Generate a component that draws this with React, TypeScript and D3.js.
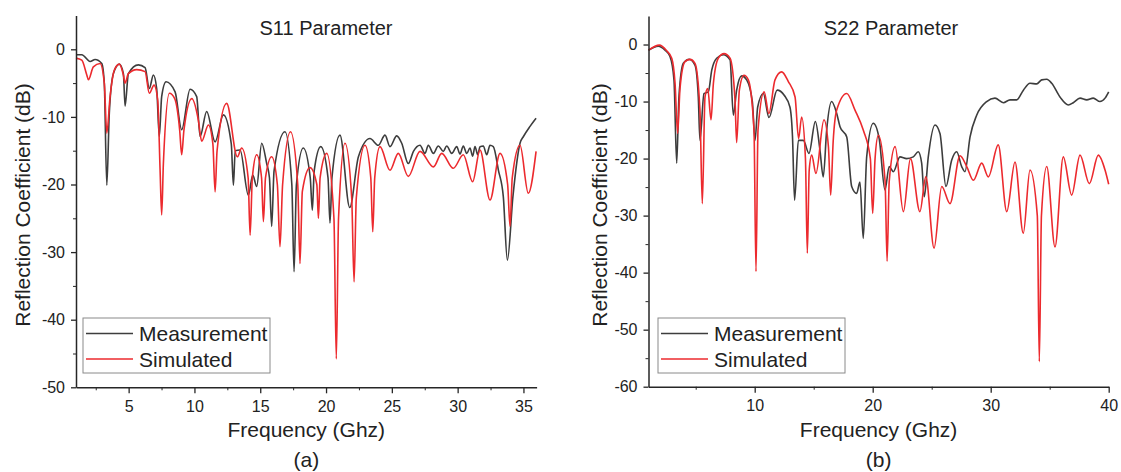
import React, { useRef, useEffect } from "react";
import * as d3 from "d3";

// S11 panel (a) - [frequency GHz, dB]
const s11Meas: [number, number][] = [
  [1.0, -0.8], [1.44, -0.8], [2.07, -1.8], [2.45, -1.5], [2.96, -2.1], [3.15, -5.0], [3.34, -20.1],
  [3.53, -9.5], [3.84, -3.6], [4.29, -2.2], [4.6, -3.6], [4.73, -8.4], [4.98, -3.6], [5.74, -2.3],
  [6.25, -2.7], [6.57, -5.8], [6.88, -3.8], [7.13, -5.8], [7.33, -12.9], [7.51, -7.0], [7.84, -4.8],
  [8.53, -6.3], [9.03, -11.9], [9.67, -5.9], [10.17, -7.0], [10.43, -12.9], [10.93, -9.2], [11.57, -13.7],
  [12.2, -9.7], [12.8, -14.0], [12.96, -20.1], [13.1, -15.0], [13.47, -14.9], [14.1, -21.6], [14.43, -18.6],
  [14.73, -20.3], [15.11, -13.9], [15.49, -16.9], [15.7, -19.0], [15.87, -26.2], [16.05, -18.0], [16.88, -12.2],
  [17.4, -20.0], [17.57, -32.9], [17.75, -20.0], [18.27, -14.6], [18.8, -19.0], [18.96, -23.8], [19.1, -18.0],
  [19.6, -14.4], [20.15, -19.0], [20.3, -25.7], [20.45, -19.0], [21.06, -12.7], [21.8, -23.4], [22.46, -15.9],
  [23.34, -13.2], [23.97, -14.2], [24.48, -12.7], [24.86, -14.4], [25.37, -12.8], [25.75, -13.9], [26.25, -16.9],
  [26.64, -15.1], [27.14, -14.2], [27.52, -15.4], [27.77, -14.2], [28.16, -15.4], [28.53, -14.3], [28.91, -15.1],
  [29.17, -14.3], [29.55, -15.4], [29.93, -14.4], [30.18, -15.5], [30.43, -14.3], [30.69, -15.4], [30.94, -14.6],
  [31.14, -15.8], [31.32, -14.4], [31.53, -15.6], [31.7, -14.4], [31.95, -14.3], [32.21, -15.6], [32.46, -14.2],
  [32.71, -14.4], [33.1, -17.9], [33.47, -21.8], [33.78, -31.2], [34.2, -21.8], [34.74, -13.9], [35.0, -12.9],
  [35.5, -11.4], [35.96, -10.2],
];

const s11Sim: [number, number][] = [
  [1.0, -1.3], [1.44, -1.6], [1.82, -3.8], [1.94, -4.5], [2.32, -2.6], [2.83, -2.1], [3.15, -5.0], [3.34, -12.4],
  [3.59, -7.0], [3.91, -3.1], [4.29, -2.2], [4.6, -3.8], [4.73, -5.0], [4.98, -3.6], [5.61, -3.0], [6.25, -3.3],
  [6.57, -6.5], [6.93, -5.3], [7.21, -7.5], [7.39, -17.9], [7.51, -24.5], [7.64, -16.9], [8.1, -6.5], [8.5, -7.3],
  [8.88, -12.0], [9.03, -15.6], [9.2, -12.0], [9.8, -7.3], [10.3, -10.5], [10.55, -13.6], [11.06, -11.2],
  [11.4, -14.0], [11.57, -21.1], [11.72, -15.0], [12.45, -8.0], [13.26, -15.9], [13.59, -14.6], [14.08, -19.0],
  [14.23, -27.5], [14.4, -19.0], [14.73, -15.6], [15.1, -19.0], [15.24, -25.5], [15.4, -19.0], [15.87, -15.9],
  [16.3, -20.0], [16.5, -29.2], [16.7, -20.0], [17.3, -12.2], [17.85, -20.0], [18.02, -31.7], [18.2, -21.0],
  [18.78, -17.5], [19.3, -20.0], [19.42, -25.0], [19.55, -19.0], [20.05, -15.4], [20.6, -25.0], [20.78, -45.8],
  [20.95, -25.0], [21.44, -13.9], [21.95, -22.0], [22.13, -34.4], [22.3, -22.0], [22.96, -14.2], [23.4, -19.0],
  [23.55, -27.0], [23.7, -19.0], [24.1, -14.4], [24.86, -17.9], [25.49, -15.4], [26.25, -18.8], [27.14, -15.1],
  [28.16, -17.4], [28.79, -15.4], [29.67, -17.6], [30.43, -15.6], [31.14, -19.6], [31.7, -14.9], [32.46, -22.3],
  [33.22, -15.4], [33.8, -20.0], [33.98, -26.2], [34.15, -19.0], [34.74, -14.2], [35.37, -21.3], [35.96, -15.1],
];

// S22 panel (b)
const s22Meas: [number, number][] = [
  [1.0, -1.0], [1.83, -0.3], [2.4, -1.0], [2.82, -2.1], [3.16, -6.2], [3.39, -20.8], [3.58, -9.2], [3.95, -3.3],
  [4.46, -2.6], [4.94, -3.6], [5.22, -9.2], [5.36, -16.8], [5.7, -8.6], [6.07, -8.3], [6.36, -4.5], [6.78, -2.4],
  [7.34, -1.8], [7.91, -2.7], [8.19, -12.4], [8.47, -8.0], [8.9, -5.5], [9.32, -6.2], [9.8, -10.0], [10.03, -16.8],
  [10.25, -11.0], [10.73, -8.6], [11.21, -12.8], [11.9, -8.0], [12.5, -8.9], [12.99, -11.0], [13.2, -16.0],
  [13.38, -27.3], [13.7, -16.8], [14.12, -16.8], [14.6, -19.1], [15.14, -13.5], [15.53, -18.5], [15.81, -23.2],
  [16.1, -15.0], [16.52, -10.0], [16.95, -12.1], [17.23, -14.4], [17.8, -16.2], [18.22, -24.9], [18.64, -26.1],
  [18.92, -24.1], [19.2, -34.0], [19.49, -19.7], [20.05, -13.8], [20.55, -16.5], [21.04, -25.5], [21.4, -21.4],
  [21.75, -22.3], [22.31, -19.7], [22.88, -20.0], [23.44, -19.7], [23.86, -18.8], [24.15, -20.8], [24.37, -26.7],
  [24.71, -19.7], [25.28, -14.1], [25.7, -15.6], [26.21, -24.9], [26.69, -20.3], [27.12, -18.8], [27.54, -21.4],
  [27.82, -22.3], [28.25, -16.2], [28.81, -12.4], [29.66, -10.0], [30.36, -9.4], [31.07, -10.2], [31.64, -9.7],
  [32.2, -9.7], [32.77, -8.0], [33.33, -6.8], [33.9, -6.9], [34.32, -6.2], [34.75, -6.1], [35.17, -6.8],
  [35.87, -9.2], [36.58, -10.6], [37.0, -10.2], [37.57, -9.4], [38.14, -9.7], [38.69, -9.4], [39.26, -10.0],
  [39.69, -9.4], [40.0, -8.3],
];

const s22Sim: [number, number][] = [
  [1.0, -1.0], [1.92, -0.1], [2.54, -1.1], [2.97, -2.4], [3.25, -6.8], [3.47, -15.6], [3.67, -7.7], [4.09, -3.0],
  [4.52, -2.6], [4.94, -3.3], [5.36, -11.5], [5.56, -27.9], [5.79, -9.2], [6.02, -7.7], [6.3, -13.2], [6.5, -6.8],
  [6.92, -2.4], [7.4, -1.6], [7.91, -2.4], [8.33, -9.7], [8.47, -17.2], [8.7, -8.0], [9.09, -5.4], [9.46, -6.2],
  [9.94, -15.0], [10.11, -39.8], [10.28, -15.0], [10.8, -8.3], [11.2, -12.1], [11.72, -6.2], [12.29, -4.8],
  [12.85, -6.5], [13.42, -9.2], [13.72, -16.5], [13.98, -12.7], [14.3, -20.0], [14.46, -36.6], [14.62, -22.0],
  [14.83, -19.4], [15.19, -22.6], [15.87, -13.2], [16.25, -18.0], [16.44, -26.4], [16.65, -17.0], [16.95, -11.5],
  [17.8, -8.6], [18.5, -11.5], [19.2, -15.0], [19.8, -20.0], [20.0, -29.6], [20.2, -20.0], [20.48, -15.9],
  [21.05, -24.0], [21.22, -38.0], [21.4, -24.0], [21.9, -17.9], [22.6, -29.3], [23.2, -20.0], [24.0, -29.3],
  [24.5, -23.2], [25.2, -35.7], [25.85, -24.9], [26.55, -27.9], [27.4, -19.5], [27.97, -21.4], [28.53, -23.8],
  [29.24, -20.8], [29.8, -23.2], [30.64, -17.6], [31.36, -29.3], [32.06, -20.6], [32.76, -33.1], [33.33, -22.0],
  [33.95, -30.0], [34.12, -55.6], [34.3, -30.0], [34.75, -21.4], [35.45, -35.5], [36.15, -19.7], [36.86, -26.4],
  [37.57, -19.4], [38.36, -24.4], [39.12, -19.4], [39.69, -22.0], [40.0, -24.5],
];

const xTicksA = [5, 10, 15, 20, 25, 30, 35];
const xMinorA = [2.5, 7.5, 12.5, 17.5, 22.5, 27.5, 32.5];
const yTicksA = [0, -10, -20, -30, -40, -50];
const yMinorA = [-5, -15, -25, -35, -45];

const xTicksB = [10, 20, 30, 40];
const xMinorB = [5, 15, 25, 35];
const yTicksB = [0, -10, -20, -30, -40, -50, -60];
const yMinorB = [-5, -15, -25, -35, -45, -55];

const legendNames = ["Measurement", "Simulated"];

const FONT = "'Liberation Sans', Arial, sans-serif";
const MEAS = "#3d3d3d";
const SIM = "#ec2a2e";
const AXIS = "#262626";

const fmt = (d) => (d < 0 ? "-" + Math.abs(d) : String(d));

function drawPanel(svg, p) {
  const x = d3.scaleLinear().domain(p.xDomain).range(p.xRange);
  const y = d3.scaleLinear().domain(p.yDomain).range(p.yRange);
  const g = svg.append("g");

  const line = d3
    .line<[number, number]>()
    .x((d) => x(d[0]))
    .y((d) => y(d[1]))
    .curve(d3.curveMonotoneX);

  g.append("path").datum(p.meas).attr("d", line).attr("fill", "none")
    .attr("stroke", MEAS).attr("stroke-width", 1.6).attr("stroke-linejoin", "round");
  g.append("path").datum(p.sim).attr("d", line).attr("fill", "none")
    .attr("stroke", SIM).attr("stroke-width", 1.6).attr("stroke-linejoin", "round");

  const y0 = p.yRange[0];
  const x0 = p.xRange[0];

  // minor ticks first
  g.append("g").attr("transform", `translate(0,${y0})`)
    .call(d3.axisBottom(x).tickValues(p.xMinor).tickSize(3).tickFormat(() => "").tickSizeOuter(0))
    .call((a) => a.select(".domain").remove());
  g.append("g").attr("transform", `translate(${x0},0)`)
    .call(d3.axisLeft(y).tickValues(p.yMinor).tickSize(3).tickFormat(() => "").tickSizeOuter(0))
    .call((a) => a.select(".domain").remove());

  const xa = g.append("g").attr("transform", `translate(0,${y0})`)
    .call(d3.axisBottom(x).tickValues(p.xTicks).tickSize(6).tickPadding(7).tickSizeOuter(0).tickFormat(fmt));
  const ya = g.append("g").attr("transform", `translate(${x0},0)`)
    .call(d3.axisLeft(y).tickValues(p.yTicks).tickSize(5).tickPadding(6).tickSizeOuter(0).tickFormat(fmt));

  [xa, ya].forEach((a) => {
    a.select(".domain").attr("stroke", AXIS).attr("stroke-width", 1.5);
    a.selectAll("line").attr("stroke", AXIS).attr("stroke-width", 1.3);
    a.selectAll("text").attr("fill", "#222").style("font-family", FONT).style("font-size", "16px");
  });
  g.selectAll("line").attr("stroke", AXIS);

  // titles
  g.append("text").attr("x", p.titleX).attr("y", 35).attr("text-anchor", "middle")
    .style("font-family", FONT).style("font-size", "20px").attr("fill", "#222").text(p.title);

  const cx = (p.xRange[0] + p.xRange[1]) / 2;
  g.append("text").attr("x", cx).attr("y", 437).attr("text-anchor", "middle")
    .style("font-family", FONT).style("font-size", "21px").attr("fill", "#222").text("Frequency (Ghz)");
  g.append("text").attr("x", cx).attr("y", 467).attr("text-anchor", "middle")
    .style("font-family", FONT).style("font-size", "21px").attr("fill", "#222").text(p.sub);
  g.append("text").attr("transform", `translate(${p.yLabelX},205) rotate(-90)`).attr("text-anchor", "middle")
    .style("font-family", FONT).style("font-size", "21px").attr("fill", "#222").text("Reflection Coefficient (dB)");

  // legend
  const lg = g.append("g").attr("transform", `translate(${p.legendX},318)`);
  lg.append("rect").attr("width", 187).attr("height", 55).attr("fill", "white")
    .attr("stroke", "#8a8a8a").attr("stroke-width", 1);
  legendNames.forEach((name, i) => {
    const ly = 15.5 + i * 25.5;
    lg.append("line").attr("x1", 3).attr("x2", 50).attr("y1", ly).attr("y2", ly)
      .attr("stroke", i === 0 ? MEAS : SIM).attr("stroke-width", 1.6);
    lg.append("text").attr("x", 56).attr("y", ly + 7.5)
      .style("font-family", FONT).style("font-size", "21px").attr("fill", "#222").text(name);
  });
}

export default function App() {
  const svgRef = useRef(null);

  useEffect(() => {
    const svg = d3.select(svgRef.current);
    svg.selectAll("*").remove();

    drawPanel(svg, {
      meas: s11Meas, sim: s11Sim,
      xDomain: [1, 36], xRange: [76, 536.6],
      yDomain: [-50, 5], yRange: [387.3, 15.5],
      xTicks: xTicksA, xMinor: xMinorA, yTicks: yTicksA, yMinor: yMinorA,
      title: "S11 Parameter", titleX: 326, sub: "(a)", yLabelX: 30, legendX: 83,
    });
    drawPanel(svg, {
      meas: s22Meas, sim: s22Sim,
      xDomain: [1, 40], xRange: [648.5, 1108.7],
      yDomain: [-60, 5], yRange: [386.7, 16],
      xTicks: xTicksB, xMinor: xMinorB, yTicks: yTicksB, yMinor: yMinorB,
      title: "S22 Parameter", titleX: 891, sub: "(b)", yLabelX: 607, legendX: 658,
    });
  }, []);

  return (
    <svg
      ref={svgRef}
      width={1121}
      height={472}
      style={{ position: "absolute", left: 0, top: 0, background: "white" }}
    />
  );
}
